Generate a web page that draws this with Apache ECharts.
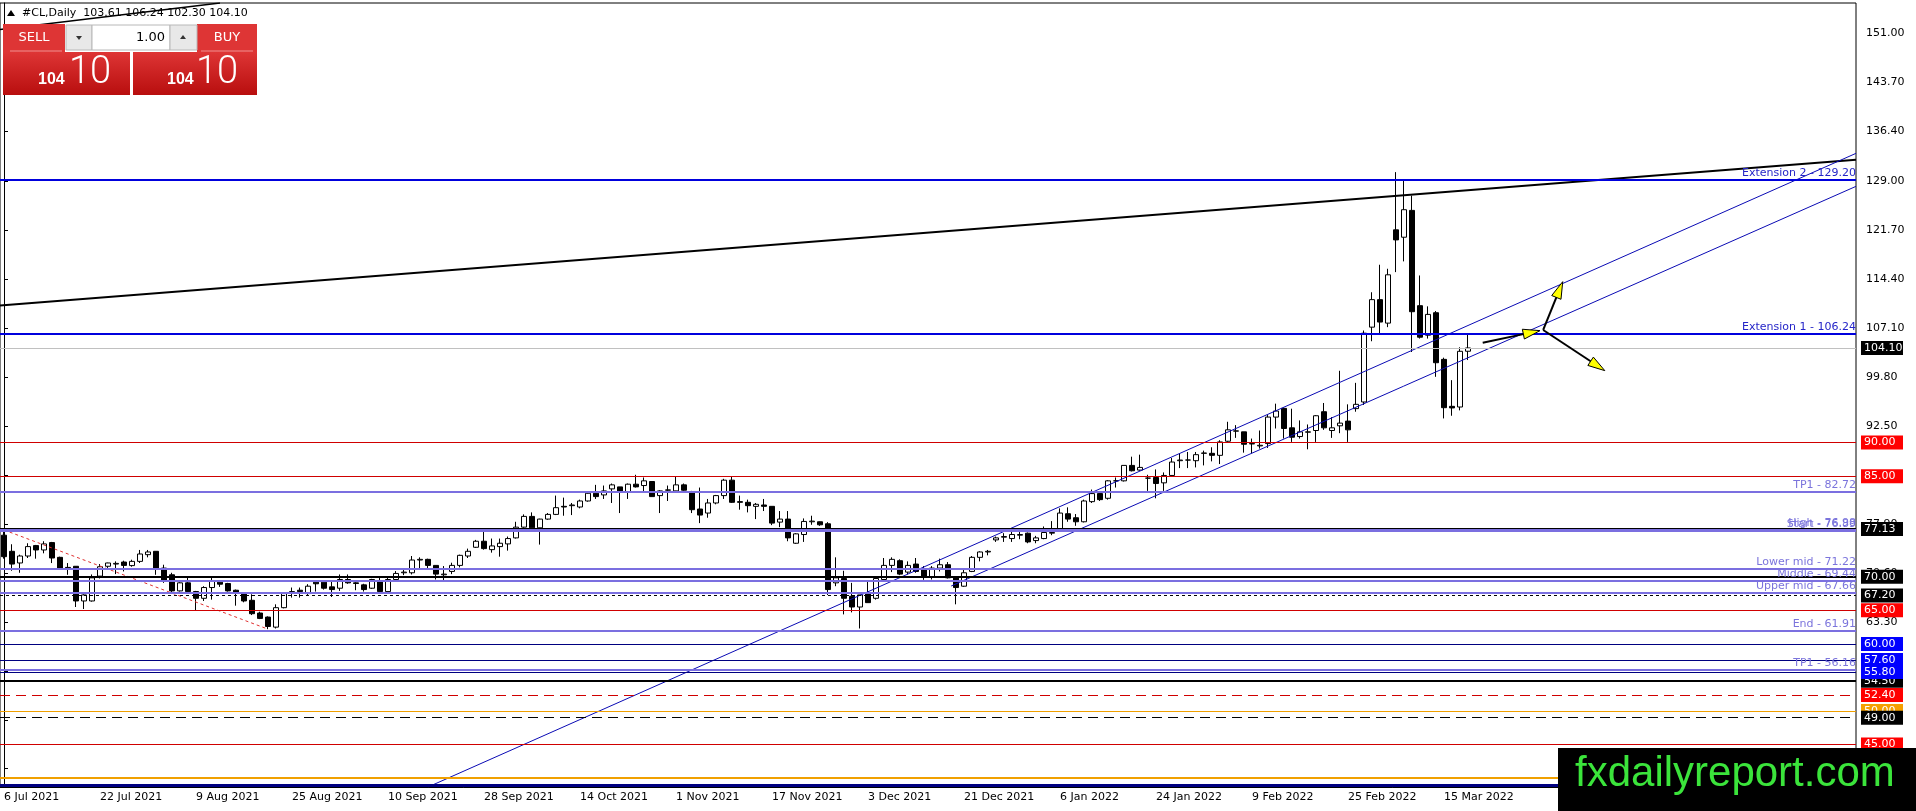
<!DOCTYPE html>
<html>
<head>
<meta charset="utf-8">
<title>#CL,Daily</title>
<script src="https://cdn.jsdelivr.net/npm/echarts@6/dist/echarts.min.js"></script>
<style>
    html, body { margin: 0; padding: 0; background: #fff; }
    #graph { width: 1916px; height: 811px; }
</style>
</head>
<body>
<div id="graph"></div>
<script>
// 日线 K 线（从 2021-07-06 起的交易日）
var opens = [76.2,73.8,72.06,73.1,74.65,74.0,75.1,72.9,71.4,71.57,
    66.4,66.4,70.1,71.57,71.9,72.2,71.67,72.3,73.3,73.8,
    71.3,70.3,67.9,69.1,67.8,66.8,68.4,69.2,69.0,68.0,
    67.5,66.5,64.6,64.0,62.5,65.4,67.6,68.0,67.5,69.2,
    69.2,68.5,68.3,69.6,69.1,68.8,68.3,69.3,67.8,69.6,
    70.6,70.6,72.5,72.6,71.7,70.3,70.8,71.7,73.1,74.4,
    75.3,74.05,74.5,74.9,75.8,77.4,79.0,77.3,78.6,79.3,
    80.5,80.6,80.4,81.3,82.45,82.2,83.1,83.4,82.7,83.8,
    83.6,84.2,82.1,82.9,82.8,83.7,82.6,80.1,79.5,81.0,
    82.1,84.4,81.2,81.1,80.5,80.7,80.5,78.15,78.6,75.0,
    76.3,78.2,78.2,77.9,69.1,69.75,67.1,65.5,67.5,66.8,
    69.6,71.7,72.4,70.7,71.9,71.2,69.95,71.3,71.8,69.85,
    68.6,70.8,72.9,73.7,75.5,75.9,75.7,76.2,76.5,75.4,
    75.7,76.5,77.1,79.4,78.8,78.2,81.2,82.4,81.7,84.3,
    84.3,86.6,85.9,84.7,84.8,84.0,85.1,87.3,87.4,87.3,
    88.4,88.4,88.1,90.2,91.7,91.6,89.85,89.5,89.85,93.8,
    95.1,92.2,90.9,91.55,91.8,94.6,91.8,92.5,93.2,95.06,
    96.05,107.2,111.3,107.8,121.7,120.6,124.6,110.4,106.0,109.35,
    102.4,95.4,95.3,103.61];
var highs = [76.98,74.85,73.3,75.0,74.75,75.3,75.2,73.0,72.05,71.6,
    67.4,70.35,71.9,72.1,72.3,72.4,72.55,74.0,74.0,73.8,
    71.8,70.6,69.2,69.85,67.9,68.6,69.85,69.2,69.1,68.1,
    67.5,67.4,64.8,64.1,65.9,67.6,68.4,68.4,68.9,69.2,
    69.2,69.4,70.35,70.35,69.2,68.96,69.7,69.85,69.85,70.85,
    71.2,73.1,72.9,72.7,71.7,71.6,72.1,73.3,74.2,75.5,
    76.8,75.7,75.7,76.0,78.2,79.3,79.6,78.65,79.5,82.1,
    81.8,81.0,81.5,82.7,83.7,83.6,83.9,83.4,83.9,85.2,
    84.8,84.2,82.9,83.6,84.9,83.9,82.8,83.3,81.6,82.2,
    84.6,84.9,82.1,81.5,81.0,81.6,80.5,79.8,79.8,76.5,
    78.7,79.1,78.25,78.15,72.9,70.9,69.1,67.3,69.3,69.75,
    72.8,72.9,72.6,72.3,72.8,71.6,71.6,72.7,72.2,69.95,
    71.3,73.1,73.8,74.0,76.0,76.5,76.7,77.0,76.6,76.1,
    77.5,78.3,80.2,80.35,79.35,81.5,83.0,82.7,84.4,84.8,
    86.6,87.9,88.2,85.2,86.0,85.55,87.7,88.4,88.6,88.6,
    88.8,89.3,90.35,93.1,92.6,91.6,90.6,91.8,94.1,95.8,
    95.2,95.05,93.3,92.7,94.1,95.9,93.8,100.7,95.7,98.9,
    106.7,112.4,116.5,115.9,130.3,129.1,126.8,114.9,110.3,109.6,
    102.65,99.3,104.2,106.24];
var lows = [72.7,70.9,70.6,72.8,72.7,73.5,72.05,71.2,70.3,65.5,
    65.2,66.3,69.75,71.1,70.4,70.8,71.5,72.06,72.9,70.3,
    69.1,67.6,67.8,67.7,65.0,66.4,66.6,68.5,67.8,65.7,
    66.2,64.3,63.7,62.2,62.3,65.3,66.9,66.9,67.3,67.8,
    68.1,67.0,67.9,68.96,68.0,67.8,68.2,67.8,67.8,69.4,
    70.25,70.35,71.3,71.2,69.6,69.5,70.4,71.4,72.8,74.3,
    74.05,73.6,73.0,73.9,75.7,77.3,77.3,74.8,78.5,79.2,
    79.1,79.2,80.2,81.2,81.6,81.6,81.0,79.5,81.6,83.3,
    82.7,81.9,79.5,81.3,82.7,82.8,79.5,78.0,78.8,80.8,
    81.6,81.0,80.0,79.6,78.6,79.8,77.7,77.4,75.3,74.9,
    75.2,77.75,77.6,67.3,68.6,64.4,64.7,62.3,66.15,66.6,
    69.5,70.7,70.25,70.35,70.6,69.55,69.6,70.8,69.75,65.9,
    68.5,70.7,72.3,73.2,75.2,75.2,75.2,75.6,75.0,75.0,
    75.6,76.2,77.0,78.2,77.6,78.1,81.0,81.3,81.5,83.3,
    84.2,85.7,85.8,82.8,81.7,82.8,85.05,86.2,86.2,86.3,
    86.6,87.2,86.8,90.1,90.7,88.5,88.4,89.1,89.2,92.1,
    90.6,90.1,90.6,89.0,90.1,91.9,90.7,91.4,90.1,94.6,
    95.6,105.1,106.3,107.2,115.4,117.0,103.5,105.5,105.5,99.8,
    93.6,94.0,94.8,102.30];
var closes = [73.0,71.9,73.1,74.5,74.0,74.9,72.8,71.3,71.2,66.4,
    67.3,69.85,71.5,72.06,72.0,71.7,72.3,73.4,73.7,71.3,
    69.4,67.9,69.1,67.8,66.8,68.4,69.3,68.9,67.9,67.6,
    66.4,64.5,63.8,62.6,65.4,67.5,67.8,67.8,68.6,68.96,
    68.3,68.1,69.6,69.1,69.0,68.1,69.6,67.8,69.6,70.5,
    70.7,72.5,72.6,71.7,70.4,70.4,71.7,73.2,73.8,75.3,
    74.2,74.6,75.0,75.7,77.4,79.0,77.3,78.6,79.3,80.3,
    80.4,80.7,81.3,82.45,81.95,82.8,83.7,82.7,83.8,83.4,
    84.3,81.95,82.8,82.95,83.7,82.9,80.0,79.2,81.0,82.1,
    84.4,81.1,81.1,80.6,80.8,80.5,78.0,78.6,75.8,76.4,
    78.25,78.3,77.75,68.1,69.85,66.8,65.5,67.3,66.15,69.75,
    71.7,72.6,70.4,71.7,70.8,69.95,71.3,71.8,69.85,68.4,
    70.6,72.9,73.7,73.8,75.8,76.0,76.3,76.3,75.2,75.8,
    76.6,76.6,79.5,78.6,78.2,81.3,82.4,81.5,84.3,84.3,
    86.6,85.8,86.3,84.7,83.9,85.1,87.1,87.4,87.4,88.2,
    88.45,88.1,90.1,91.9,91.75,89.75,89.8,89.6,93.8,94.7,
    92.1,90.8,91.6,91.6,94.0,92.2,92.2,92.9,91.9,95.7,
    106.3,111.3,107.96,115.0,120.2,124.7,109.5,105.7,109.1,101.9,
    95.2,95.16,103.6,104.10];

var firstDay = '2021-07-06';
var totalSlots = 232;          // 图表右侧留白
var labelStep = 12;            // 每 12 根 K 线一个日期
var priceTicks = [151, 143.7, 136.4, 129, 121.7, 114.4, 107.1, 99.8, 92.5, 85.2, 77.9, 70.6, 63.3, 56, 48.7, 41.4];
var priceMin = 38.68, priceMax = 155.5;
var bid = 104.10;

// 水平线
var extensionLevels = [129.20, 106.24];
var extensionNames = ['Extension 2', 'Extension 1'];
var fibLevels = [82.72, 76.98, 76.89, 71.22, 69.44, 67.66, 61.91, 56.16];
var fibNames = ['TP1', 'High', 'Start', 'Lower mid', 'Middle', 'Upper mid', 'End', 'TP1'];
var redLevels = [90, 85, 65, 45];
var redDashLevels = [52.4];
var orangeLevels = [50, 40];
var blackLevels = [77.13, 70, 54.5];
var navyLevels = [60, 57.6, 55.8];
var navyPlain = [76.80, 38.9];
var blackDotLevels = [67.2];
var blackDashLevels = [49];

// 趋势线 [K线序号, 价格]
var resistanceLine = [[-0.5, 110.42], [231.5, 132.15]];
var channelUpper = [[53.0, 38.68], [231.5, 133.1]];
var channelLower = [[118.4, 68.63], [231.5, 128.18]];
var declineLine = [[0, 76.98], [33, 62.2]];
var steepLine = [[-0.5, 151.55], [27, 155.5]];
// 箭头 [起点序号, 起点价, 终点序号, 终点价]
var arrows = [
    [184.84, 104.89, 192.0, 106.68],
    [192.4, 106.78, 194.84, 113.98],
    [192.4, 106.78, 200.1, 100.72]
];

var FONT = 'DejaVu Sans';
var MONTHS = ['Jan', 'Feb', 'Mar', 'Apr', 'May', 'Jun', 'Jul', 'Aug', 'Sep', 'Oct', 'Nov', 'Dec'];

function tradingDays(start, count) {
    var out = [];
    var d = new Date(start + 'T00:00:00Z');
    while (out.length < count) {
        var wd = d.getUTCDay();
        if (wd !== 0 && wd !== 6) {
            out.push(d.getUTCDate() + ' ' + MONTHS[d.getUTCMonth()] + ' ' + d.getUTCFullYear());
        }
        d.setUTCDate(d.getUTCDate() + 1);
    }
    return out;
}

var days = tradingDays(firstDay, opens.length);
var categories = days.slice();
while (categories.length < totalSlots) categories.push('');

var candles = opens.map(function (o, i) {
    return [o, closes[i], lows[i], highs[i]];
});

function showTick(index, value) {
    return value !== '' && index % labelStep === 0;
}

function tag(bg, fg) {
    return {
        show: true, position: 'end', distance: 5,
        formatter: function (p) { return Number(p.value).toFixed(2); },
        color: fg || '#fff', backgroundColor: bg,
        padding: [1, 2, 0, 3], width: 37, lineHeight: 13,
        fontFamily: FONT, fontSize: 11
    };
}

function caption(text, color) {
    return {
        show: true, position: 'insideEndTop', distance: [0, 1],
        formatter: text, color: color,
        fontFamily: FONT, fontSize: 11
    };
}

function hline(v, color, width, type, label) {
    return {
        yAxis: v,
        lineStyle: {color: color, width: width, type: type || 'solid'},
        label: label || {show: false}
    };
}

var levelLines = [];
levelLines.push(hline(bid, '#c0c0c0', 1, 'solid', tag('#000')));
navyPlain.forEach(function (v) { levelLines.push(hline(v, '#000080', v < 40 ? 3 : 1.5)); });
redLevels.forEach(function (v) { levelLines.push(hline(v, '#d00000', 1, 'solid', tag('#ff0000'))); });
redDashLevels.forEach(function (v) { levelLines.push(hline(v, '#d00000', 1, [10, 6], tag('#ff0000'))); });
orangeLevels.forEach(function (v) { levelLines.push(hline(v, '#f0a000', v < 45 ? 2 : 1, 'solid', tag('#f5a000'))); });
blackLevels.forEach(function (v) { levelLines.push(hline(v, '#000', 2, 'solid', tag('#000'))); });
navyLevels.forEach(function (v) { levelLines.push(hline(v, '#000080', 1, 'solid', tag('#0000ff'))); });
blackDotLevels.forEach(function (v) { levelLines.push(hline(v, '#000', 1, [3, 3], tag('#000'))); });
blackDashLevels.forEach(function (v) { levelLines.push(hline(v, '#000', 1, [10, 6], tag('#000'))); });
fibLevels.forEach(function (v, i) {
    levelLines.push(hline(v, '#7b6fe0', 2, 'solid', caption(fibNames[i] + ' - ' + v.toFixed(2), '#7b74dc')));
});
extensionLevels.forEach(function (v, i) {
    levelLines.push(hline(v, '#0000dd', 2, 'solid', caption(extensionNames[i] + ' - ' + v.toFixed(2), '#2525c8')));
});

function trend(data, color, width, type) {
    return {
        type: 'line', xAxisIndex: 1, yAxisIndex: 0,
        data: data, showSymbol: false, symbol: 'none', silent: true,
        clip: true, z: 4,
        lineStyle: {color: color, width: width, type: type || 'solid'}
    };
}

function renderArrow(params, api) {
    var p1 = api.coord([api.value(0), api.value(1)]);
    var p2 = api.coord([api.value(2), api.value(3)]);
    var dx = p2[0] - p1[0], dy = p2[1] - p1[1];
    var len = Math.sqrt(dx * dx + dy * dy) || 1;
    var ux = dx / len, uy = dy / len;
    var headL = 17, headW = 5;
    var bx = p2[0] - ux * headL, by = p2[1] - uy * headL;
    return {
        type: 'group',
        children: [{
            type: 'line',
            shape: {x1: p1[0], y1: p1[1], x2: bx, y2: by},
            style: {stroke: '#000', lineWidth: 2}
        }, {
            type: 'polygon',
            shape: {points: [[p2[0], p2[1]], [bx - uy * headW, by + ux * headW], [bx + uy * headW, by - ux * headW]]},
            style: {fill: '#ffff00', stroke: '#000', lineWidth: 1}
        }]
    };
}

var chart = echarts.init(document.getElementById('graph'), null, {renderer: 'canvas'});

var option = {
    animation: false,
    backgroundColor: '#fff',
    grid: {left: 0, right: 60, top: 3, bottom: 24, show: true, borderColor: '#000', borderWidth: 1},
    xAxis: [{
        type: 'category',
        data: categories,
        boundaryGap: true,
        axisLine: {lineStyle: {color: '#000', width: 1}},
        axisTick: {alignWithLabel: true, length: 4, interval: showTick, lineStyle: {color: '#000'}},
        axisLabel: {
            interval: showTick, align: 'left', margin: 5,
            color: '#000', fontFamily: FONT, fontSize: 11
        },
        splitLine: {show: false}
    }, {
        type: 'value', min: -0.5, max: totalSlots - 0.5, show: false
    }],
    yAxis: [{
        type: 'value', position: 'right', min: priceMin, max: priceMax, scale: true,
        axisLine: {show: true, lineStyle: {color: '#000', width: 1}},
        axisTick: {show: true, length: 4, customValues: priceTicks, lineStyle: {color: '#000'}},
        axisLabel: {
            customValues: priceTicks, margin: 10,
            formatter: function (v) { return Number(v).toFixed(2); },
            color: '#000', fontFamily: FONT, fontSize: 11
        },
        splitLine: {show: false}
    }],
    series: [{
        type: 'candlestick',
        data: candles,
        barWidth: 5,
        silent: true,
        itemStyle: {
            color: '#fff', color0: '#000',
            borderColor: '#000', borderColor0: '#000', borderColorDoji: '#000',
            borderWidth: 1
        },
        markLine: {
            silent: true, symbol: ['none', 'none'], animation: false,
            data: levelLines
        }
    },
        trend(resistanceLine, '#000', 2),
        trend(channelUpper, '#0a0ab4', 1),
        trend(channelLower, '#0a0ab4', 1),
        trend(declineLine, '#e03030', 1, [3, 3]),
        trend(steepLine, '#000', 1.5),
        {
            type: 'custom', xAxisIndex: 1, yAxisIndex: 0,
            renderItem: renderArrow,
            encode: {x: [0, 2], y: [1, 3]},
            data: arrows, silent: true, z: 10, clip: false
        }],
    graphic: [
        // 标题
        {type: 'polygon', z: 50, shape: {points: [[7, 16], [15, 16], [11, 10]]}, style: {fill: '#000'}},
        {type: 'text', z: 50, x: 22, y: 13,
            style: {text: '#CL,Daily  103.61 106.24 102.30 104.10', font: '11px ' + FONT, fill: '#000', verticalAlign: 'middle'}},
        // 一键交易面板
        {type: 'rect', z: 60, shape: {x: 3, y: 24, width: 62, height: 28}, style: {fill: '#de3535'}},
        {type: 'rect', z: 60, shape: {x: 197, y: 24, width: 60, height: 28}, style: {fill: '#de3535'}},
        {type: 'line', z: 61, shape: {x1: 10, y1: 51, x2: 62, y2: 51}, style: {stroke: '#f09090', lineWidth: 1}},
        {type: 'line', z: 61, shape: {x1: 201, y1: 51, x2: 253, y2: 51}, style: {stroke: '#f09090', lineWidth: 1}},
        {type: 'text', z: 62, x: 34, y: 38,
            style: {text: 'SELL', font: '13px ' + FONT, fill: '#fff', align: 'center', verticalAlign: 'middle'}},
        {type: 'text', z: 62, x: 227, y: 38,
            style: {text: 'BUY', font: '13px ' + FONT, fill: '#fff', align: 'center', verticalAlign: 'middle'}},
        {type: 'rect', z: 60, shape: {x: 66, y: 25, width: 26, height: 25}, style: {fill: '#e8e8e8', stroke: '#b8b8b8'}},
        {type: 'rect', z: 60, shape: {x: 92, y: 25, width: 78, height: 25}, style: {fill: '#fff', stroke: '#b8b8b8'}},
        {type: 'rect', z: 60, shape: {x: 170, y: 25, width: 27, height: 25}, style: {fill: '#e8e8e8', stroke: '#b8b8b8'}},
        {type: 'polygon', z: 62, shape: {points: [[76, 36], [82, 36], [79, 40]]}, style: {fill: '#333'}},
        {type: 'polygon', z: 62, shape: {points: [[180, 39], [186, 39], [183, 35]]}, style: {fill: '#333'}},
        {type: 'text', z: 62, x: 165, y: 38,
            style: {text: '1.00', font: '13px ' + FONT, fill: '#000', align: 'right', verticalAlign: 'middle'}},
        {type: 'rect', z: 60, shape: {x: 3, y: 52, width: 127, height: 43},
            style: {fill: new echarts.graphic.LinearGradient(0, 0, 0, 1, [{offset: 0, color: '#de3535'}, {offset: 1, color: '#b80e0e'}])}},
        {type: 'rect', z: 60, shape: {x: 133, y: 52, width: 124, height: 43},
            style: {fill: new echarts.graphic.LinearGradient(0, 0, 0, 1, [{offset: 0, color: '#de3535'}, {offset: 1, color: '#b80e0e'}])}},
        {type: 'text', z: 62, x: 38, y: 88,
            style: {text: '104', font: 'bold 16px Liberation Sans', fill: '#fff', verticalAlign: 'bottom'}},
        {type: 'text', z: 62, x: 69, y: 92,
            style: {text: '10', font: '300 38px Roboto', fill: '#fff', verticalAlign: 'bottom'}},
        {type: 'text', z: 62, x: 167, y: 88,
            style: {text: '104', font: 'bold 16px Liberation Sans', fill: '#fff', verticalAlign: 'bottom'}},
        {type: 'text', z: 62, x: 196, y: 92,
            style: {text: '10', font: '300 38px Roboto', fill: '#fff', verticalAlign: 'bottom'}},
        // 水印
        {type: 'rect', z: 80, shape: {x: 1558, y: 748, width: 358, height: 63}, style: {fill: '#000'}},
        {type: 'text', z: 81, x: 1575, y: 774,
            style: {text: 'fxdailyreport.com', font: '42px Liberation Sans', fill: '#3be43b', verticalAlign: 'middle'}}
    ]
};

chart.setOption(option);
</script>
</body>
</html>
